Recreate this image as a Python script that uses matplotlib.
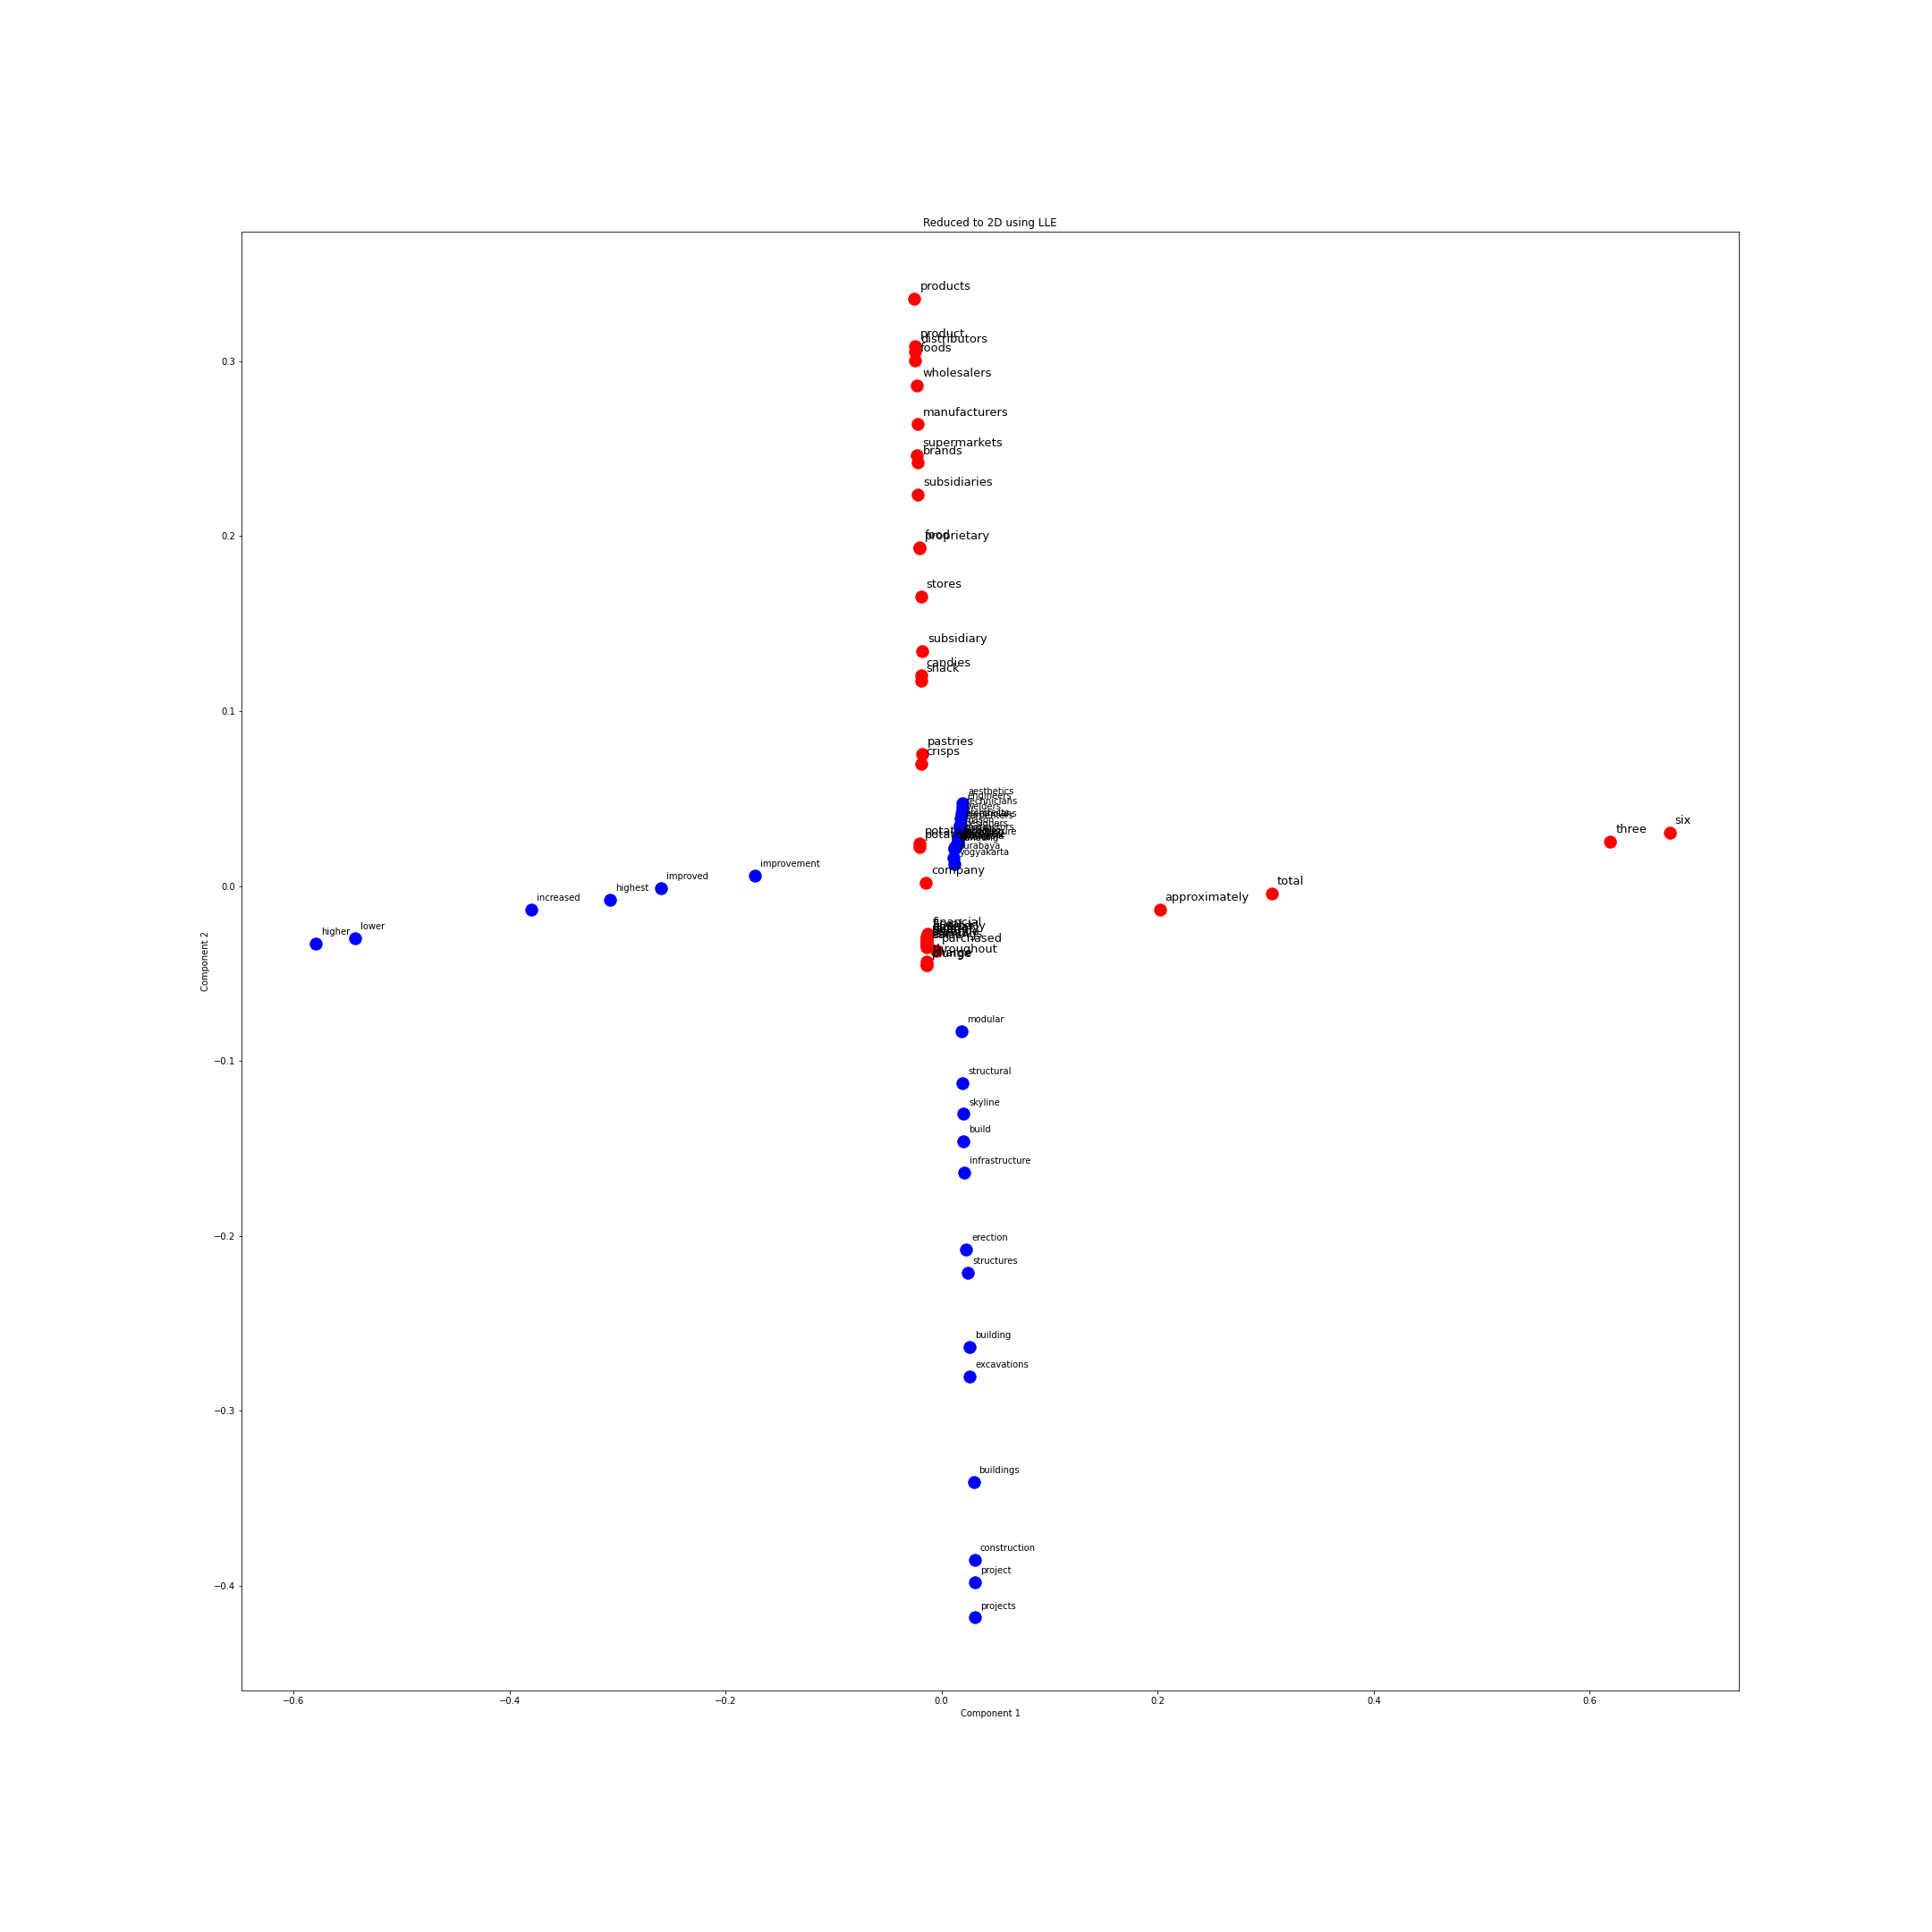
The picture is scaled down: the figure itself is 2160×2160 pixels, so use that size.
import matplotlib
matplotlib.use("Agg")
import matplotlib.pyplot as plt

# Red group (food / company / numbers)
red_words = ["products", "product", "distributors", "foods", "wholesalers",
             "manufacturers", "supermarkets", "brands", "subsidiaries", "food",
             "proprietary", "stores", "subsidiary", "candies", "snack",
             "pastries", "crisps", "potato", "potatoes", "company",
             "approximately", "total", "three", "six",
             "financial", "fiscal", "quarterly", "annual", "monthly", "yearly",
             "revenue", "profits", "earnings", "sales", "purchased", "throughout",
             "charge", "plunge"]
red_x = [-0.0250, -0.0245, -0.0243, -0.0245, -0.0229,
         -0.0220, -0.0225, -0.0218, -0.0218, -0.0205,
         -0.0203, -0.0190, -0.0180, -0.0190, -0.0190,
         -0.0178, -0.0190, -0.0205, -0.0203, -0.0148,
         0.2020, 0.3057, 0.6190, 0.6740,
         -0.0133, -0.0135, -0.0136, -0.0137, -0.0137, -0.0137,
         -0.0138, -0.0138, -0.0138, -0.0139, -0.0050, -0.0137,
         -0.0140, -0.0140]
red_y = [0.3360, 0.3088, 0.3058, 0.3007, 0.2860,
         0.2640, 0.2465, 0.2420, 0.2240, 0.1937,
         0.1930, 0.1655, 0.1345, 0.1204, 0.1176,
         0.0754, 0.0697, 0.0245, 0.0225, 0.0020,
         -0.0134, -0.0042, 0.0254, 0.0303,
         -0.0275, -0.0290, -0.0298, -0.0305, -0.0312, -0.0320,
         -0.0328, -0.0335, -0.0342, -0.0350, -0.0370, -0.0430,
         -0.0450, -0.0455]

# Blue group (comparatives / construction / cluster)
blue_words = ["higher", "lower", "increased", "highest", "improved", "improvement",
              "modular", "structural", "skyline", "build", "infrastructure",
              "erection", "structures", "building", "excavations", "buildings",
              "construction", "project", "projects",
              "aesthetics", "engineers", "technicians", "welders", "architects",
              "electricians", "carpenters", "mason", "designers", "contractors",
              "workers", "laborers", "architecture", "plumbing", "singapore",
              "malaysia", "indonesia", "jakarta", "bandung", "surabaya", "yogyakarta"]
blue_x = [-0.5795, -0.5425, -0.3798, -0.3068, -0.2600, -0.1728,
          0.0183, 0.0194, 0.0205, 0.0205, 0.0210,
          0.0228, 0.0240, 0.0262, 0.0262, 0.0297,
          0.0308, 0.0308, 0.0310,
          0.0195, 0.0190, 0.0185, 0.0180, 0.0175,
          0.0172, 0.0170, 0.0165, 0.0160, 0.0155,
          0.0150, 0.0148, 0.0145, 0.0140, 0.0135,
          0.0130, 0.0125, 0.0120, 0.0115, 0.0110, 0.0120]
blue_y = [-0.0331, -0.0299, -0.0134, -0.0077, -0.0014, 0.0061,
          -0.0831, -0.1127, -0.1303, -0.1458, -0.1640,
          -0.2077, -0.2211, -0.2634, -0.2803, -0.3408,
          -0.3852, -0.3979, -0.4183,
          0.0475, 0.0450, 0.0418, 0.0387, 0.0350,
          0.0345, 0.0335, 0.0310, 0.0290, 0.0270,
          0.0260, 0.0250, 0.0245, 0.0240, 0.0230,
          0.0225, 0.0220, 0.0215, 0.0210, 0.0160, 0.0125]

fig = plt.figure(figsize=(30, 30), dpi=72)
fig.subplots_adjust(left=0.125, right=0.9, bottom=0.125, top=0.88)
ax = fig.add_subplot(111)

ax.scatter(blue_x, blue_y, c="blue", s=180)
ax.scatter(red_x, red_y, c="red", s=180)

for w, x, y in zip(blue_words, blue_x, blue_y):
    ax.text(x + 0.005, y + 0.005, w, fontsize=10)
for w, x, y in zip(red_words, red_x, red_y):
    ax.text(x + 0.005, y + 0.005, w, fontsize=13)

ax.set_xlim(-0.648, 0.738)
ax.set_ylim(-0.460, 0.374)

ax.set_title("Reduced to 2D using LLE")
ax.set_xlabel("Component 1")
ax.set_ylabel("Component 2")

fig.savefig("out.png", dpi=72)
